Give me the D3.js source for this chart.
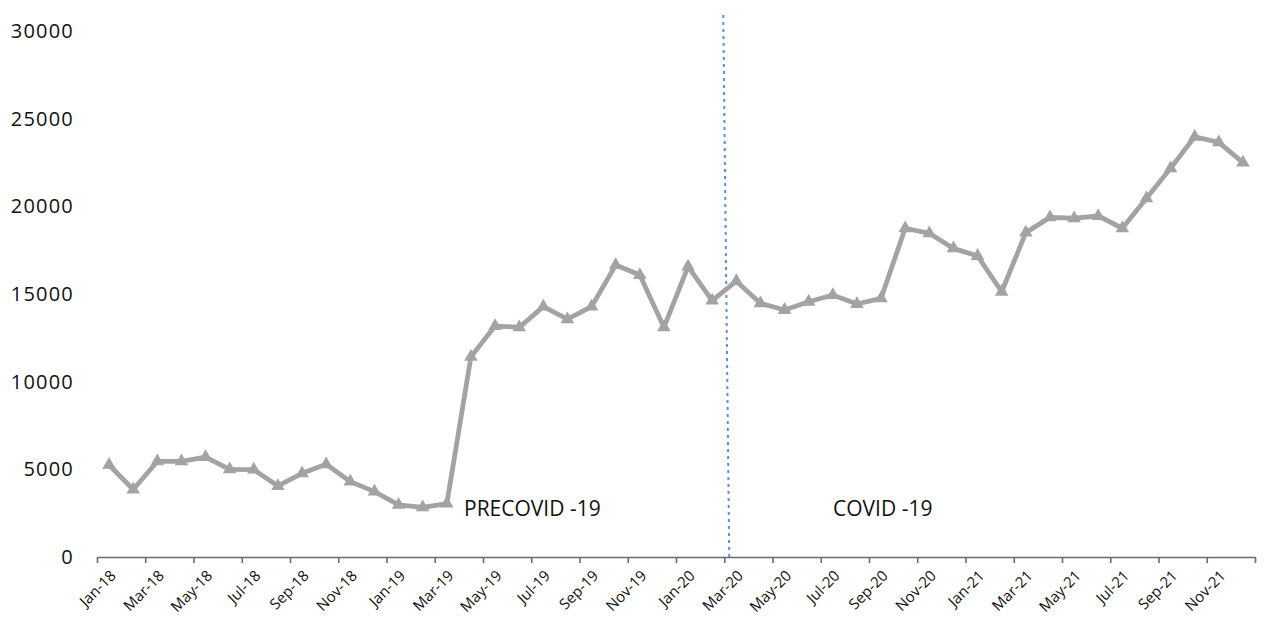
<!DOCTYPE html>
<html>
<head>
<meta charset="utf-8">
<script src="https://cdn.jsdelivr.net/npm/d3@7"></script>
<style>
  html, body { margin: 0; padding: 0; background: #fff; }
  svg { display: block; }
  text { font-family: "Open Sans", "Noto Sans", sans-serif; fill: #111; }
</style>
</head>
<body>
<svg id="chart" width="1264" height="619"></svg>
<script>
const months = [
  "Jan-18","Feb-18","Mar-18","Apr-18","May-18","Jun-18","Jul-18","Aug-18","Sep-18","Oct-18","Nov-18","Dec-18",
  "Jan-19","Feb-19","Mar-19","Apr-19","May-19","Jun-19","Jul-19","Aug-19","Sep-19","Oct-19","Nov-19","Dec-19",
  "Jan-20","Feb-20","Mar-20","Apr-20","May-20","Jun-20","Jul-20","Aug-20","Sep-20","Oct-20","Nov-20","Dec-20",
  "Jan-21","Feb-21","Mar-21","Apr-21","May-21","Jun-21","Jul-21","Aug-21","Sep-21","Oct-21","Nov-21","Dec-21"
];
const values = [
  5250, 3850, 5450, 5450, 5700, 5000, 4980, 4050, 4770, 5290, 4300, 3730,
  2970, 2830, 3050, 11420, 13175, 13100, 14280, 13560, 14280, 16650, 16080, 13100,
  16560, 14620, 15730, 14470, 14090, 14560, 14940, 14430, 14750, 18750, 18460, 17600,
  17170, 15130, 18500, 19370, 19320, 19450, 18750, 20460, 22170, 23970, 23650, 22490
];
const yTicks = [0, 5000, 10000, 15000, 20000, 25000, 30000];
const xLabelMonths = months.filter((m, i) => i % 2 === 0);
const divider = "Mar-20";
const annotations = ["PRECOVID -19", "COVID -19"];

(function () {
const svg = d3.select("#chart");
const mLeft = 97, mRight = 1255, mTop = 31, mBottom = 557;

const x = d3.scaleBand().domain(months).range([mLeft, mRight]).padding(0);
const bw = x.bandwidth();
const cx = m => x(m) + bw / 2;
const y = d3.scaleLinear().domain([0, 30000]).range([mBottom, mTop]);

// Y labels
svg.append("g").selectAll("text").data(yTicks).join("text")
  .attr("x", 74).attr("y", d => y(d)).attr("dy", "0.35em")
  .attr("text-anchor", "end").style("font-size", "20px")
  .style("letter-spacing", "1.2px")
  .text(d => d);

// X axis line + ticks at category boundaries
const xi = d3.scaleLinear().domain([0, months.length]).range([mLeft, mRight]);
const xAxis = d3.axisBottom(xi)
  .tickValues(d3.range(0, months.length + 1, 2))
  .tickSize(6).tickSizeOuter(0).tickFormat("");
const gx = svg.append("g").attr("transform", `translate(0,${mBottom})`).call(xAxis);
gx.selectAll("path, line").attr("stroke", "#6b6b6b").attr("stroke-width", 1.6);

// X labels
svg.append("g").selectAll("text").data(xLabelMonths).join("text")
  .attr("transform", d => `translate(${cx(d) + 4},${mBottom + 16}) rotate(-45)`)
  .attr("text-anchor", "end").attr("dy", "0.35em")
  .style("font-size", "15px")
  .text(d => d);

// Divider
const dx = x(divider);
svg.append("line")
  .attr("x1", dx - 1).attr("x2", dx + 5)
  .attr("y1", 15).attr("y2", mBottom)
  .attr("stroke", "#5b8ee0").attr("stroke-width", 2)
  .attr("stroke-dasharray", "3,4");

// Line
const line = d3.line().x((d, i) => cx(months[i])).y(d => y(d));
svg.append("path").datum(values)
  .attr("d", line).attr("fill", "none")
  .attr("stroke", "#a3a3a3").attr("stroke-width", 4.8)
  .attr("stroke-linejoin", "round");

// Triangle markers
const tri = d3.symbol().type(d3.symbolTriangle).size(80);
svg.append("g").selectAll("path").data(values).join("path")
  .attr("d", tri)
  .attr("transform", (d, i) => `translate(${cx(months[i])},${y(d)})`)
  .attr("fill", "#a3a3a3");

// Annotations
svg.append("g").selectAll("text").data(annotations).join("text")
  .attr("x", (d, i) => i === 0 ? 464 : 833)
  .attr("y", 516)
  .style("font-size", "21px")
  .text(d => d);
})();
</script>
</body>
</html>
